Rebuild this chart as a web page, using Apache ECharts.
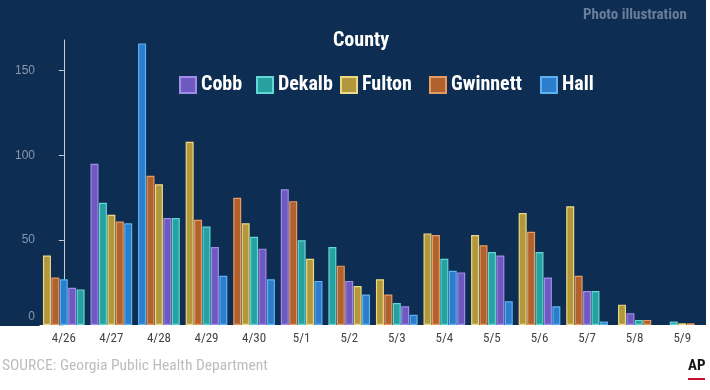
<!DOCTYPE html>
<html>
<head>
<meta charset="utf-8">
<script src="https://cdn.jsdelivr.net/npm/echarts@6/dist/echarts.min.js"></script>
<style>html,body{margin:0;padding:0;background:#fff}#c{width:710px;height:390px}</style>
</head>
<body>
<div id="c"></div>
<script>
const dates = ['4/26','4/27','4/28','4/29','4/30','5/1','5/2','5/3','5/4','5/5','5/6','5/7','5/8','5/9'];
const counties = ['Cobb','Dekalb','Fulton','Gwinnett','Hall'];
const cobb     = [22, 95, 63, 46, 45, 80, 26, 11, 31, 41, 28, 20, 7, 0];
const dekalb   = [21, 72, 63, 58, 52, 50, 46, 13, 39, 43, 43, 20, 3, 2];
const fulton   = [41, 65, 83, 108, 60, 39, 23, 27, 54, 53, 66, 70, 12, 1];
const gwinnett = [28, 61, 88, 62, 75, 73, 35, 18, 53, 47, 55, 29, 3, 1];
const hall     = [27, 60, 166, 29, 27, 26, 18, 6, 32, 14, 11, 2, 0, 0];
const yTicks = [0, 50, 100, 150];

const values = [cobb, dekalb, fulton, gwinnett, hall];
const fills   = ['#6d59c0', '#26a1a0', '#b2973c', '#b1612d', '#2c7dcb'];
const borders = ['#a18ce8', '#62d8d4', '#ecd985', '#e69b62', '#5db2f0'];
const NARROW = "'Liberation Sans Narrow','Arial Narrow','Roboto Condensed',Arial,sans-serif";
const SLOT = 0.177;

// per date: rank bars descending (stable), skip zeros, center the group
const seriesData = counties.map(() => []);
dates.forEach((d, g) => {
  const items = counties.map((c, i) => ({ i, v: values[i][g] })).filter(o => o.v > 0);
  items.sort((a, b) => b.v - a.v);
  const n = items.length;
  items.forEach((o, r) => {
    seriesData[o.i].push([g + (r - (n - 1) / 2) * SLOT, o.v]);
  });
});

const chart = echarts.init(document.getElementById('c'));
const legendLefts = [179, 256, 340, 429, 540];
chart.setOption({
  animation: false,
  backgroundColor: '#ffffff',
  graphic: [
    { type: 'rect', z: -10, shape: { x: 0, y: 0, width: 706, height: 326 }, style: { fill: '#0e2d52' } },
    { type: 'text', left: 583, top: 8, style: { text: 'Photo illustration', fill: '#687e9a', font: 'bold 15px ' + NARROW } },
    { type: 'text', left: 2, top: 358, style: { text: 'SOURCE: Georgia Public Health Department', fill: '#bdbdbd', font: '15.5px ' + NARROW } },
    { type: 'text', left: 688, top: 359, style: { text: 'AP', fill: '#111', font: 'bold 15px ' + NARROW } },
    { type: 'rect', shape: { x: 688, y: 378, width: 17, height: 2 }, style: { fill: '#c8102e' } }
  ],
  title: {
    text: 'County', left: 361, top: 31, padding: 0, textAlign: 'center',
    textStyle: { color: '#ffffff', fontSize: 20, fontWeight: 'bold', fontFamily: NARROW }
  },
  legend: counties.map((c, i) => ({
    data: [c], left: legendLefts[i], top: 75, padding: 0, icon: 'rect', itemWidth: 16, itemHeight: 16, itemGap: 5,
    selectedMode: false,
    textStyle: { color: '#ffffff', fontSize: 20, fontWeight: 'bold', fontFamily: NARROW }
  })),
  grid: { left: 40, right: 4, top: 40, bottom: 65 },
  xAxis: [
    {
      type: 'category', data: dates, boundaryGap: true,
      axisLine: { show: true, lineStyle: { color: '#ffffff' } },
      axisTick: { show: false },
      axisLabel: { color: '#444', fontSize: 13, margin: 7, fontFamily: NARROW },
      splitLine: { show: false }
    },
    { type: 'value', min: -0.5, max: dates.length - 0.5, show: false, splitLine: { show: false } }
  ],
  yAxis: {
    type: 'value', min: 0, max: 168,
    axisLine: { show: true, lineStyle: { color: '#c9ced6', width: 1 } },
    axisTick: { show: true, length: 5, customValues: yTicks, lineStyle: { color: '#c9ced6' } },
    axisLabel: {
      customValues: yTicks, color: '#8597b0', fontSize: 12, margin: 5, fontFamily: 'Liberation Sans, Arial, sans-serif',
      formatter: v => v === 0 ? '{z|0}' : String(v),
      rich: { z: { color: '#8597b0', fontSize: 12, padding: [0, 0, 16, 0] } }
    },
    splitLine: { show: false }
  },
  series: counties.map((c, i) => ({
    name: c, type: 'bar', xAxisIndex: 1, data: seriesData[i], barWidth: 8, barGap: '-100%',
    itemStyle: { color: fills[i], borderColor: borders[i], borderWidth: 1.2 }
  }))
});
</script>
</body>
</html>
